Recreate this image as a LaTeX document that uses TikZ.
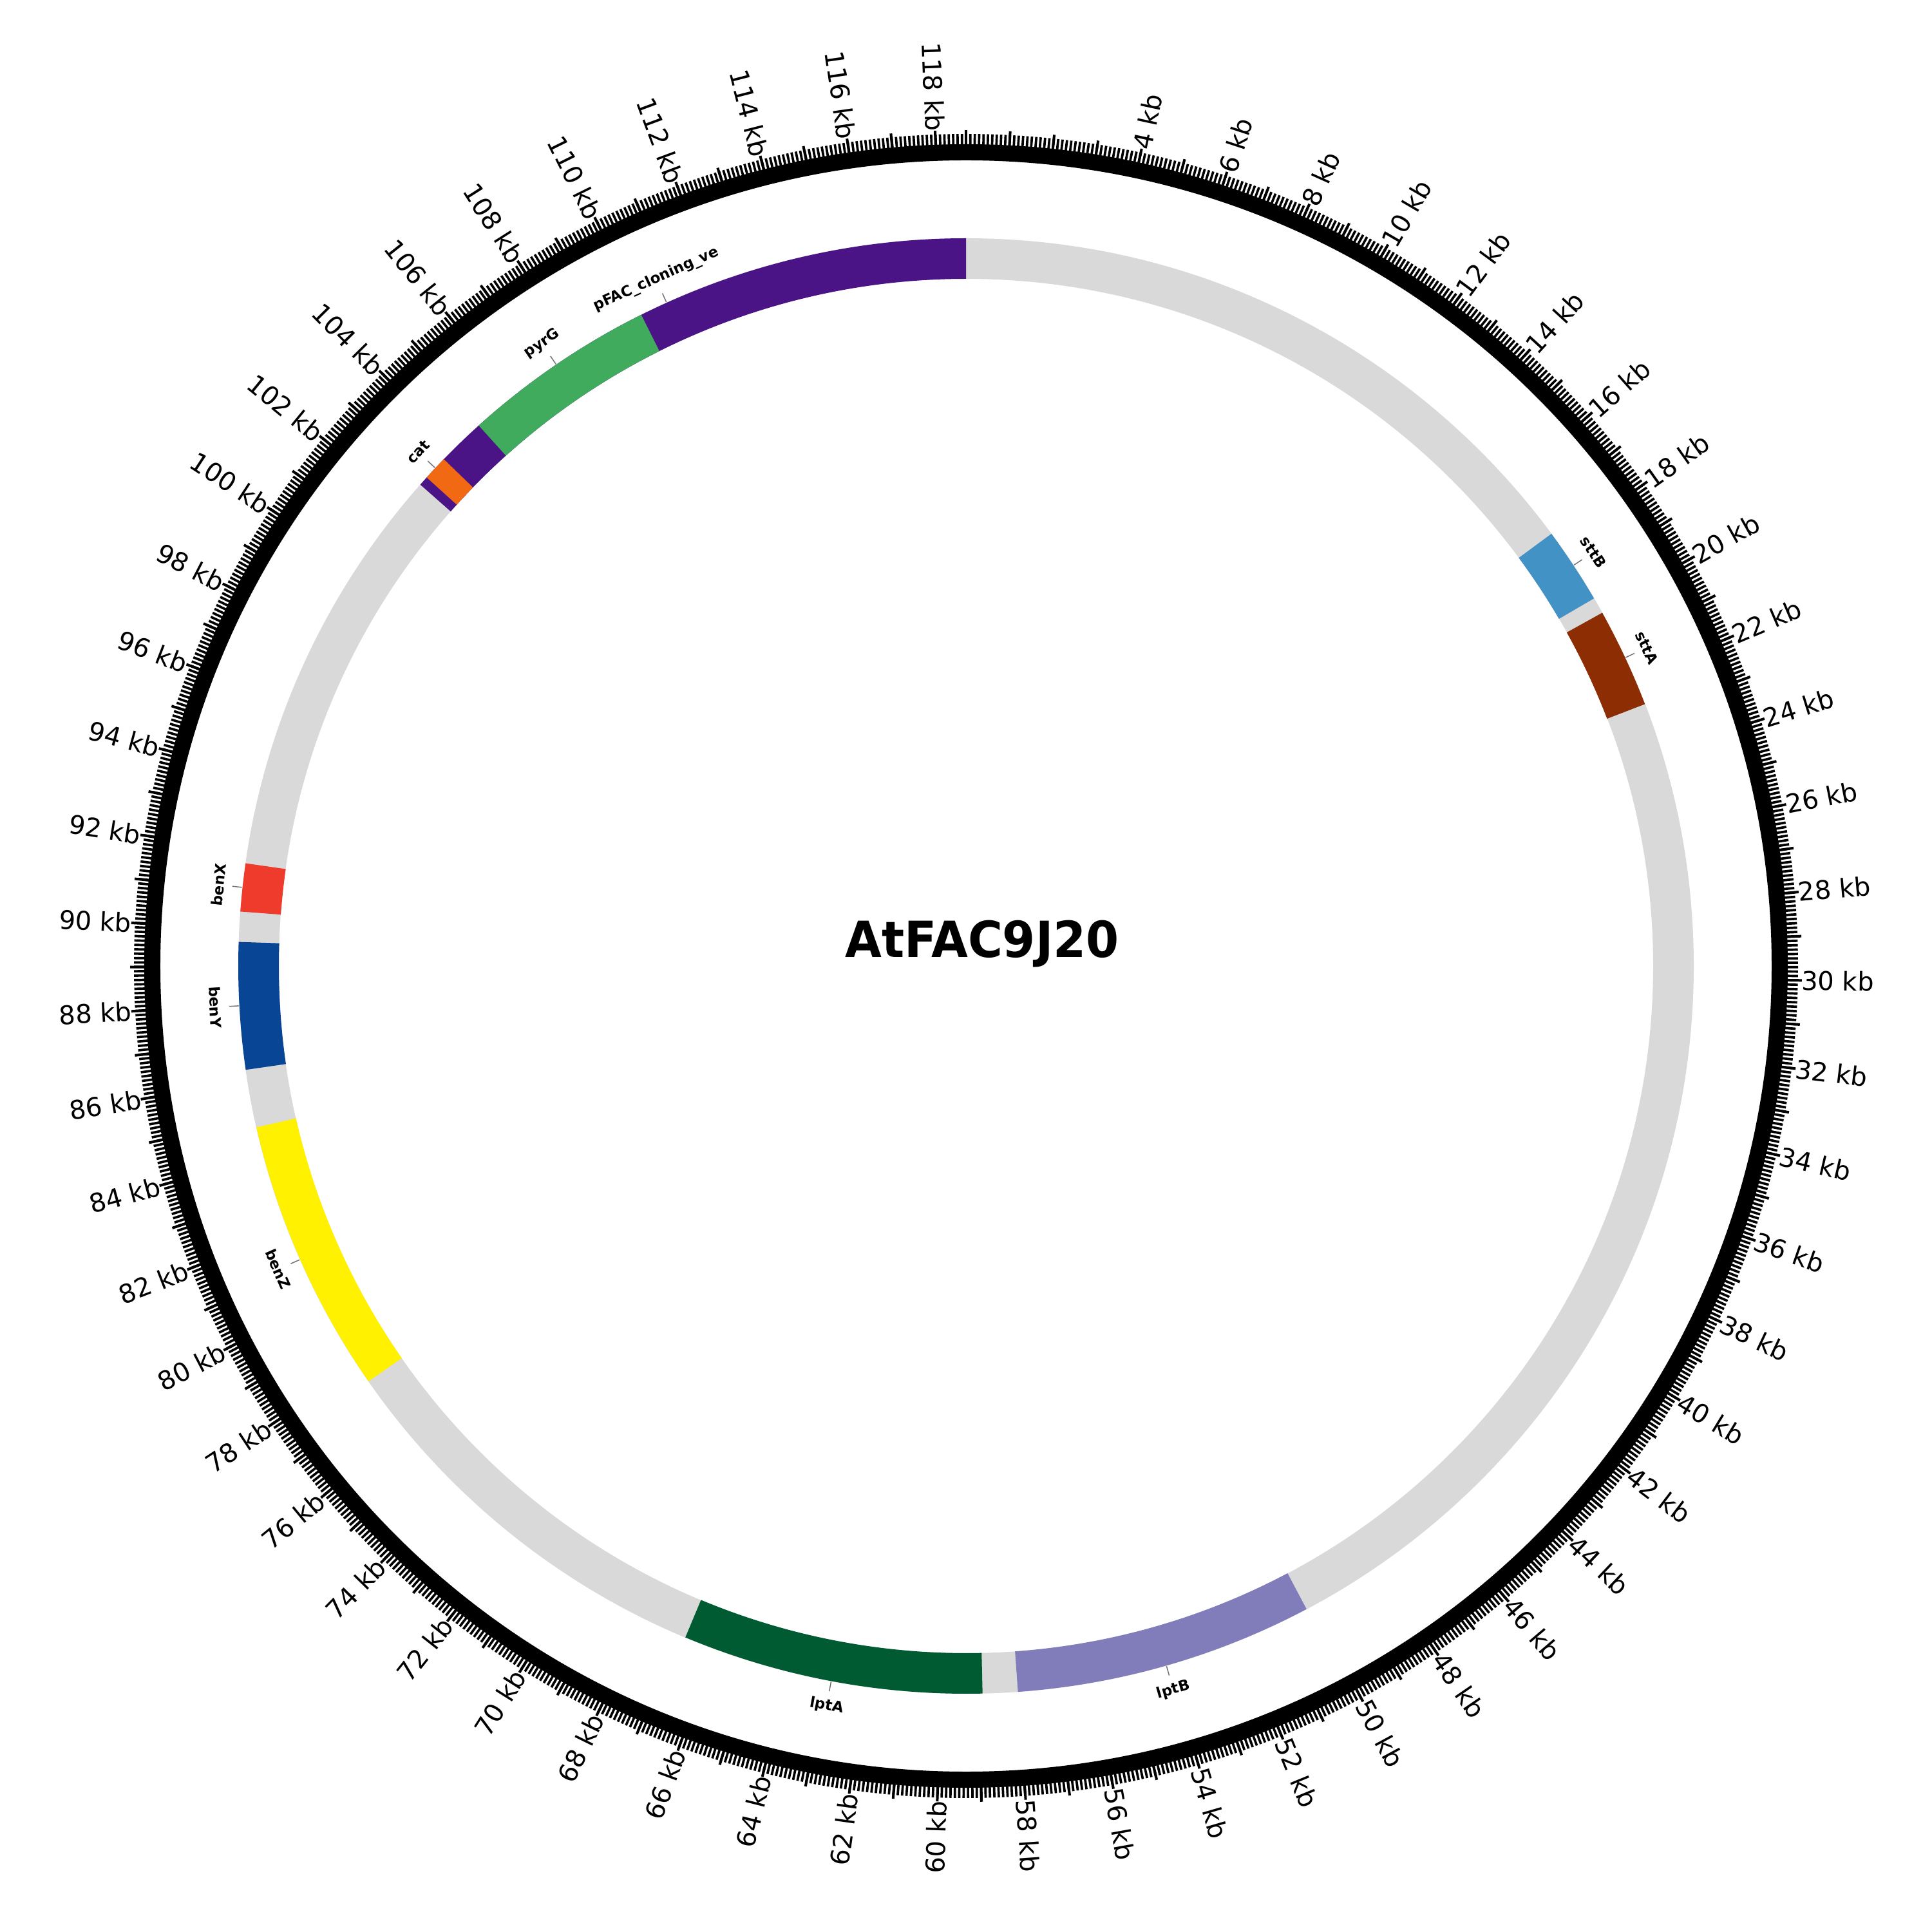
\documentclass[tikz,border=0pt]{standalone}
\usepackage{fontspec}
\setmainfont{DejaVu Sans}
\newfontfamily\titlefont{DejaVu Sans}[FakeStretch=0.95]
\usepackage{xcolor}
\usepackage{tikz}
\usetikzlibrary{calc}

\definecolor{ringgray}{HTML}{D9D9D9}
\definecolor{pfaccol}{HTML}{4A1486}
\definecolor{pyrgcol}{HTML}{41AB5D}
\definecolor{catcol}{HTML}{F16913}
\definecolor{sttbcol}{HTML}{4292C6}
\definecolor{sttacol}{HTML}{8C2D04}
\definecolor{benxcol}{HTML}{EF3B2C}
\definecolor{benycol}{HTML}{084594}
\definecolor{benzcol}{HTML}{FFF100}
\definecolor{lptacol}{HTML}{005A32}
\definecolor{lptbcol}{HTML}{807DBA}

\newcommand{\degkb}{3.03286} % degrees per kb (118.7 kb)
\newcommand{\rin}{10.67}
\newcommand{\rout}{11.30}

% feature block: start kb, end kb, colour
\newcommand{\feat}[3]{%
  \pgfmathsetmacro\fa{90-#1*\degkb}%
  \pgfmathsetmacro\fb{90-#2*\degkb}%
  \fill[#3] (\fa:\rin) arc[start angle=\fa, end angle=\fb, radius=\rin]
    -- (\fb:\rout) arc[start angle=\fb, end angle=\fa, radius=\rout] -- cycle;}

% feature label: kb, name, text
\newcommand{\featlabel}[3]{%
  \pgfmathsetmacro\la{90-#1*\degkb}%
  \pgfmathtruncatemacro\flip{((#1*\degkb>90)&&(#1*\degkb<270))?1:0}%
  \coordinate (#2-a) at (\la:11.31);
  \ifnum\flip=1
    \node[featlab, rotate=\la+90, anchor=north] (#2) at (\la:11.46) {#3};
  \else
    \node[featlab, rotate=\la-90, anchor=south] (#2) at (\la:11.46) {#3};
  \fi
  \draw[leader] (#2-a) -- (#2);}

\begin{document}
\begin{tikzpicture}[
  featlab/.style={font=\bfseries\fontsize{6.5}{8}\selectfont},
  kblab/.style={font=\fontsize{11.4}{13}\selectfont, inner sep=0pt},
  leader/.style={draw=black!55, line width=0.015cm},
  minortick/.style={line width=0.037cm},
  majortick/.style={line width=0.04cm},
]
  \useasboundingbox (-15,-15) rectangle (15,15);

  % Scale ring
  \draw[line width=0.25cm] (0,0) circle (12.635);
  \foreach \t in {0,...,1186}{
    \pgfmathsetmacro\ta{90-\t*0.1*\degkb}
    \draw[minortick] (\ta:12.74) -- (\ta:12.92);
  }
  \foreach \t in {0,...,118}{
    \pgfmathsetmacro\ta{90-\t*\degkb}
    \draw[majortick] (\ta:12.74) -- (\ta:12.98);
  }

  % kb labels
  \foreach \k in {4,6,...,118}{
    \pgfmathsetmacro\ta{90-\k*\degkb}
    \pgfmathtruncatemacro\lefthalf{(\k*\degkb>180)?1:0}
    \ifnum\lefthalf=1
      \node[kblab, rotate=\ta+180, anchor=east] (kb\k) at (\ta:12.97) {\k\ kb};
    \else
      \node[kblab, rotate=\ta, anchor=west] (kb\k) at (\ta:12.97) {\k\ kb};
    \fi
  }

  % Feature track
  \draw[ringgray, line width=0.63cm] (0,0) circle (10.985);
  \feat{102.68}{118.7}{pfaccol}
  \feat{104.84}{109.96}{pyrgcol}
  \feat{102.93}{103.58}{catcol}
  \feat{17.66}{19.67}{sttbcol}
  \feat{20.10}{22.72}{sttacol}
  \feat{90.44}{91.70}{benxcol}
  \feat{86.32}{89.65}{benycol}
  \feat{77.55}{84.80}{benzcol}
  \feat{58.92}{66.83}{lptacol}
  \feat{50.15}{58.00}{lptbcol}

  % Feature labels
  \featlabel{110.69}{pfac}{pFAC\_cloning\_ve}
  \featlabel{107.40}{pyrg}{pyrG}
  \featlabel{103.26}{cat}{cat}
  \featlabel{18.66}{sttb}{sttB}
  \featlabel{21.41}{stta}{sttA}
  \featlabel{91.07}{benx}{benX}
  \featlabel{87.99}{beny}{benY}
  \featlabel{81.18}{benz}{benZ}
  \featlabel{62.87}{lpta}{lptA}
  \featlabel{54.08}{lptb}{lptB}

  % Title
  \node[font=\titlefont\bfseries\fontsize{22}{26}\selectfont, anchor=base] (title)
    at (0.25,0.13) {AtFAC9J20};
\end{tikzpicture}
\end{document}
